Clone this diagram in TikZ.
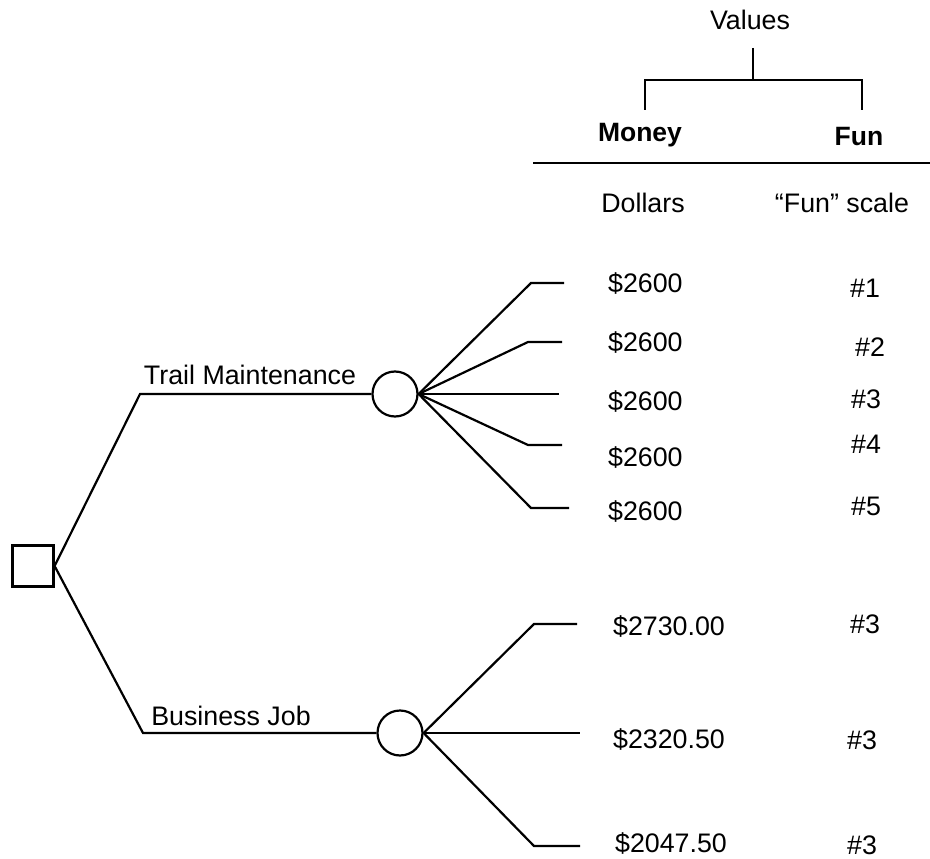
\documentclass[tikz,border=0pt]{standalone}
\usepackage{fontspec}
\setmainfont{Liberation Sans}
\begin{document}
\begin{tikzpicture}[x=1pt,y=-1pt,
  line width=2.2pt,
  every node/.style={font=\fontsize{26.8}{31}\selectfont},
  decision/.style={draw,rectangle,minimum size=41pt,inner sep=0pt},
  chance/.style={draw,circle,minimum size=45pt,inner sep=0pt},
  lbl/.style={inner sep=0pt},
  val/.style={inner sep=0pt,anchor=west},
  hdr/.style={inner sep=0pt,font=\fontsize{26.5}{31}\selectfont\bfseries}]
\useasboundingbox (0,0) rectangle (930,859);

% value hierarchy
\node[lbl] (values) at (750,20) {Values};
\coordinate (vtop) at (753,48);
\coordinate (vmid) at (753,80);
\coordinate (hl) at (645,80);
\coordinate (hr) at (862,80);
\coordinate (hlb) at (645,110);
\coordinate (hrb) at (862,110);
\draw (vtop) -- (vmid);
\draw (hlb) -- (hl) -- (hr) -- (hrb);
\node[hdr] (money) at (640,135) {Money};
\node[hdr] (fun) at (859,137) {Fun};
\coordinate (rl) at (533,163);
\coordinate (rr) at (930,163);
\draw (rl) -- (rr);
\node[lbl] (dollars) at (643,203) {Dollars};
\node[lbl] (funscale) at (842,203) {“Fun” scale};

% decision node and alternatives
\node[decision] (dec) at (33,566) {};
\coordinate (tm) at (140,394);
\coordinate (bj) at (143,733);
\node[chance] (c1) at (395,394) {};
\node[chance] (c2) at (400,733) {};
\draw (dec.east) -- (tm) -- (c1.west);
\draw (dec.east) -- (bj) -- (c2.west);
\node[lbl] (tmlabel) at (250,375) {Trail Maintenance};
\node[lbl] (bjlabel) at (231,716) {Business Job};

% outcomes of trail maintenance
\coordinate (a1) at (531,283); \coordinate (a1e) at (564,283);
\coordinate (a2) at (528,342); \coordinate (a2e) at (562,342);
\coordinate (a3e) at (559,394);
\coordinate (a4) at (528,445); \coordinate (a4e) at (562,445);
\coordinate (a5) at (531,508); \coordinate (a5e) at (569,508);
\draw (c1.east) -- (a1) -- (a1e);
\draw (c1.east) -- (a2) -- (a2e);
\draw (c1.east) -- (a3e);
\draw (c1.east) -- (a4) -- (a4e);
\draw (c1.east) -- (a5) -- (a5e);

% outcomes of business job
\coordinate (b1) at (534,624); \coordinate (b1e) at (577,624);
\coordinate (b2e) at (580,733);
\coordinate (b3) at (534,846); \coordinate (b3e) at (580,846);
\draw (c2.east) -- (b1) -- (b1e);
\draw (c2.east) -- (b2e);
\draw (c2.east) -- (b3) -- (b3e);

% money column
\node[val] (m1) at (607,284) {\$2600};
\node[val] (m2) at (607,343) {\$2600};
\node[val] (m3) at (607,402) {\$2600};
\node[val] (m4) at (607,458) {\$2600};
\node[val] (m5) at (607,512) {\$2600};
\node[val] (m6) at (612,627) {\$2730.00};
\node[val] (m7) at (612,740) {\$2320.50};
\node[val] (m8) at (614,844) {\$2047.50};

% fun column
\node[lbl] (f1) at (865,288) {\#1};
\node[lbl] (f2) at (870,347) {\#2};
\node[lbl] (f3) at (866,399) {\#3};
\node[lbl] (f4) at (866,444) {\#4};
\node[lbl] (f5) at (866,506) {\#5};
\node[lbl] (f6) at (865,624) {\#3};
\node[lbl] (f7) at (862,740) {\#3};
\node[lbl] (f8) at (862,845) {\#3};
\end{tikzpicture}
\end{document}
